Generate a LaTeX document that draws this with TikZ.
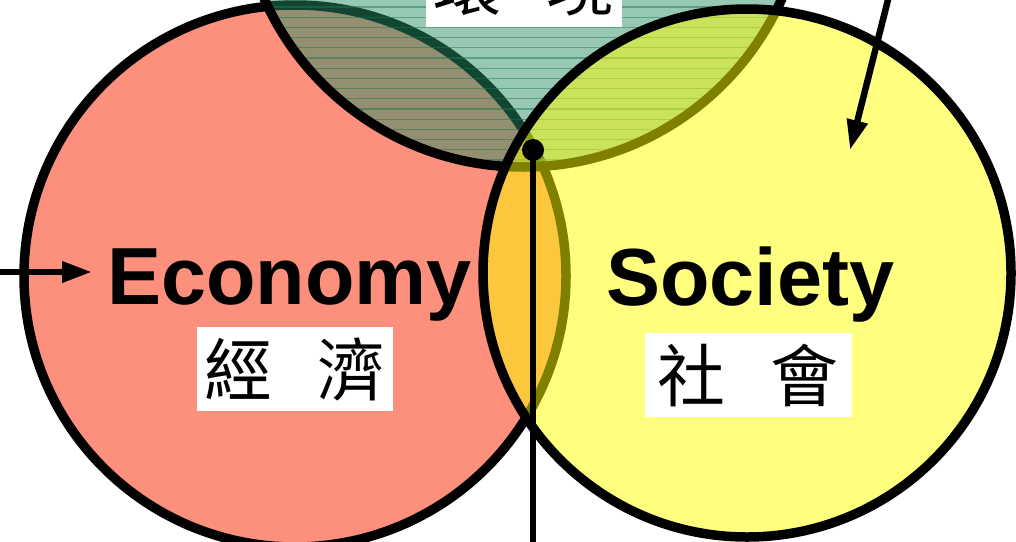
\documentclass[tikz,border=0pt]{standalone}
\usepackage{fontspec}
\usetikzlibrary{arrows.meta}
\setmainfont{Liberation Sans}
\newfontfamily\cjkFont{Noto Sans CJK TC}
\definecolor{econRed}{RGB}{252,144,124}
\definecolor{envGreen}{RGB}{40,143,102}
\definecolor{envStripe}{RGB}{30,120,80}
\definecolor{socYellow}{RGB}{255,255,0}
\newcommand{\ringWidth}[0]{9.5pt}
\newcommand{\wordFont}[0]{\bfseries\fontsize{81}{81}\selectfont}
\newcommand{\hanFont}[0]{\cjkFont\fontsize{68}{68}\selectfont}

\begin{document}
\begin{tikzpicture}[x=1pt, y=-1pt]
  \tikzset{ring/.style={circle, draw=black, line width=\ringWidth, inner sep=0pt},
           han box/.style={fill=white, inner sep=0pt, minimum height=84pt, font=\hanFont},
           word/.style={anchor=base west, inner sep=0pt, font=\wordFont},
           wire/.style={line width=6.5pt},
           pointer/.style={wire, -{Triangle[length=30pt, width=20pt]}}}
  \useasboundingbox (0,0) rectangle (1016,541);
  \clip (0,0) rectangle (1016,541);

  \node[ring, fill=econRed, minimum size=542pt] (econ) at (295,276) {};
  \node[circle, inner sep=0pt, fill=envGreen, fill opacity=0.49, minimum size=566pt] (env) at (523,-116) {};
  \begin{scope}
    \clip (env.center) circle[radius=278pt];
    \foreach \y in {7,17.2,...,170}
      \draw[envStripe, line width=1.3pt, opacity=0.5] (230,\y) -- (820,\y);
  \end{scope}
  \draw[line width=\ringWidth] (env.center) circle[radius=283pt];
  \node[han box, minimum width=196pt] (env-han) at (524,-15) {環\hspace{46pt}境};
  \node[ring, fill=socYellow, fill opacity=0.5, minimum size=528pt] (soc) at (747,273) {};
  \node[han box, minimum width=196pt] (econ-han) at (295,369) {經\hspace{46pt}濟};
  \node[han box, minimum width=207pt] (soc-han) at (748,375) {社\hspace{45pt}會};
  \node[word] (econ-word) at (107,304) {Economy};
  \node[word] (soc-word) at (606,305) {Society};

  \node[circle, fill=black, inner sep=0pt, minimum size=22pt] (joint) at (533,150) {};
  \coordinate (joint-end) at (533,560);
  \coordinate (econ-from) at (-20,272);
  \coordinate (econ-tip) at (92,272);
  \coordinate (soc-from) at (893,-20);
  \coordinate (soc-tip) at (850,150);
  \draw[wire] (joint.center) -- (joint-end);
  \draw[pointer] (econ-from) -- (econ-tip);
  \draw[pointer] (soc-from) -- (soc-tip);
\end{tikzpicture}
\end{document}
